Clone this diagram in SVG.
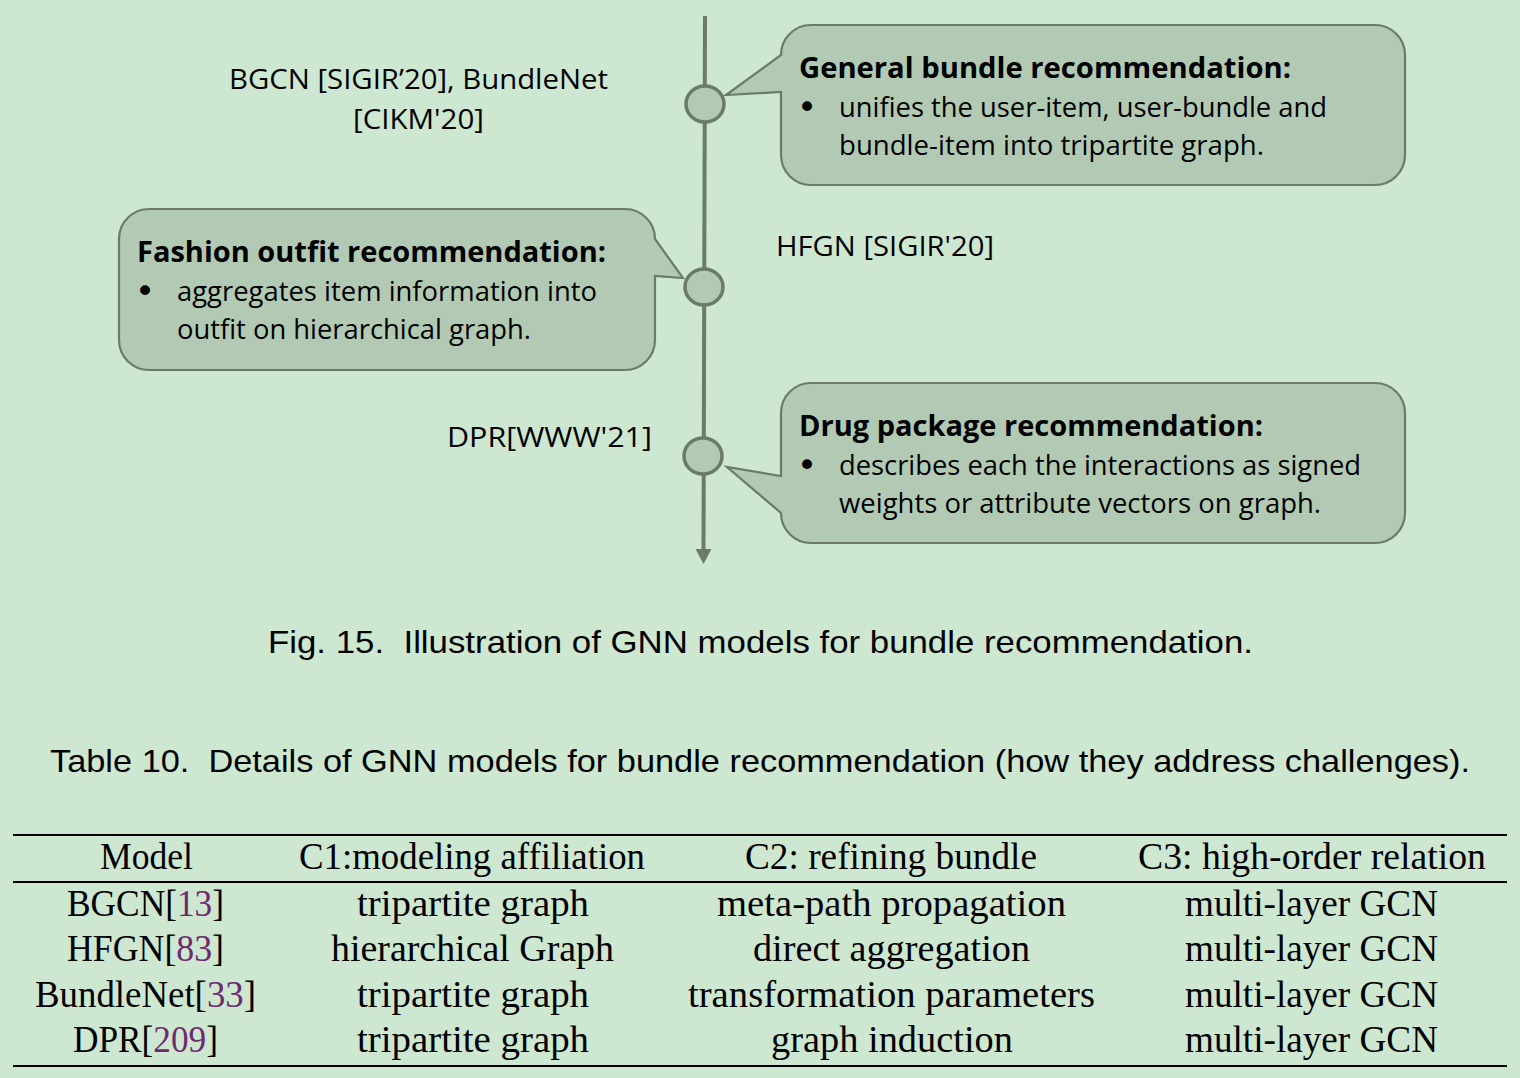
<svg xmlns="http://www.w3.org/2000/svg" width="1520" height="1078" viewBox="0 0 1520 1078">
<style>
.bg{fill:#cde7d0}
.callout{fill:#b2cab3;stroke:#6b7a6b;stroke-width:2.2}
.dot{fill:#b2cab3;stroke:#6b7a6b;stroke-width:3.5}
.axis{stroke:#6b7a6b;stroke-width:4;fill:none}
.head{fill:#6b7a6b}
.t{font-family:"Open Sans","Noto Sans","Liberation Sans",sans-serif;font-size:28px;fill:#000}
.bul{font-family:"DejaVu Sans","Liberation Sans",sans-serif;font-size:34px;fill:#000}
.tb{font-family:"Open Sans","Noto Sans","Liberation Sans",sans-serif;font-size:29px;font-weight:bold;fill:#000}
.cap{font-family:"Liberation Sans","DejaVu Sans",sans-serif;font-size:32px;fill:#000}
.tab{font-family:"Liberation Serif","DejaVu Serif",serif;font-size:37px;fill:#000}
.cite{fill:#6f2a6e}
.rule{stroke:#000;stroke-width:2}
</style>
<rect class="bg" x="0" y="0" width="1520" height="1078"/>

<g id="connectors">
  <line class="axis" x1="705" y1="16" x2="703.5" y2="551"/>
  <polygon class="head" points="695.5,549 711.5,549 703.5,564"/>
</g>

<g id="node-general">
  <path class="callout" d="M 811 25 H 1375 A 30 30 0 0 1 1405 55 V 155 A 30 30 0 0 1 1375 185 H 811 A 30 30 0 0 1 781 155 V 92 L 726 95 L 781 55 A 30 30 0 0 1 811 25 Z"/>
  <text class="tb" x="799" y="78" textLength="492" lengthAdjust="spacingAndGlyphs">General bundle recommendation:</text>
  <text class="bul" x="797" y="119">•</text>
  <text class="t" x="839" y="117" textLength="488" lengthAdjust="spacingAndGlyphs">unifies the user-item, user-bundle and</text>
  <text class="t" x="839" y="155" textLength="425" lengthAdjust="spacingAndGlyphs">bundle-item into tripartite graph.</text>
</g>

<g id="node-fashion">
  <path class="callout" d="M 149 209 H 625 A 30 30 0 0 1 655 239 L 683 278 L 655 276 V 340 A 30 30 0 0 1 625 370 H 149 A 30 30 0 0 1 119 340 V 239 A 30 30 0 0 1 149 209 Z"/>
  <text class="tb" x="137" y="262" textLength="469" lengthAdjust="spacingAndGlyphs">Fashion outfit recommendation:</text>
  <text class="bul" x="135" y="303">•</text>
  <text class="t" x="177" y="301" textLength="420" lengthAdjust="spacingAndGlyphs">aggregates item information into</text>
  <text class="t" x="177" y="339" textLength="354" lengthAdjust="spacingAndGlyphs">outfit on hierarchical graph.</text>
</g>

<g id="node-drug">
  <path class="callout" d="M 811 383 H 1375 A 30 30 0 0 1 1405 413 V 513 A 30 30 0 0 1 1375 543 H 811 A 30 30 0 0 1 781 513 L 727 467 L 781 476 V 413 A 30 30 0 0 1 811 383 Z"/>
  <text class="tb" x="799" y="436" textLength="464" lengthAdjust="spacingAndGlyphs">Drug package recommendation:</text>
  <text class="bul" x="797" y="477">•</text>
  <text class="t" x="839" y="475" textLength="522" lengthAdjust="spacingAndGlyphs">describes each the interactions as signed</text>
  <text class="t" x="839" y="513" textLength="482" lengthAdjust="spacingAndGlyphs">weights or attribute vectors on graph.</text>
</g>

<g id="node-bgcn">
  <ellipse class="dot" cx="705" cy="104" rx="19" ry="18"/>
  <text class="t" x="229" y="89" textLength="379" lengthAdjust="spacingAndGlyphs">BGCN [SIGIR’20], BundleNet</text>
  <text class="t" x="353" y="129" textLength="131" lengthAdjust="spacingAndGlyphs">[CIKM'20]</text>
</g>

<g id="node-hfgn">
  <ellipse class="dot" cx="704" cy="287" rx="19" ry="18"/>
  <text class="t" x="776" y="256" textLength="218" lengthAdjust="spacingAndGlyphs">HFGN [SIGIR'20]</text>
</g>

<g id="node-dpr">
  <ellipse class="dot" cx="703" cy="456" rx="19" ry="18"/>
  <text class="t" x="447" y="447" textLength="205" lengthAdjust="spacingAndGlyphs">DPR[WWW'21]</text>
</g>

<text class="cap" x="268" y="653" xml:space="preserve" textLength="985" lengthAdjust="spacingAndGlyphs">Fig. 15.  Illustration of GNN models for bundle recommendation.</text>
<text class="cap" x="50" y="772" xml:space="preserve" textLength="1420" lengthAdjust="spacingAndGlyphs">Table 10.  Details of GNN models for bundle recommendation (how they address challenges).</text>

<g id="table">
  <line class="rule" x1="13" y1="835" x2="1507" y2="835"/>
  <line class="rule" x1="13" y1="882" x2="1507" y2="882"/>
  <line class="rule" x1="13" y1="1066" x2="1507" y2="1066"/>
  <text class="tab" x="100" y="869" textLength="93" lengthAdjust="spacingAndGlyphs">Model</text>
  <text class="tab" x="299" y="869" textLength="346" lengthAdjust="spacingAndGlyphs">C1:modeling affiliation</text>
  <text class="tab" x="745" y="869" textLength="292" lengthAdjust="spacingAndGlyphs">C2: refining bundle</text>
  <text class="tab" x="1138" y="869" textLength="348" lengthAdjust="spacingAndGlyphs">C3: high-order relation</text>

  <text class="tab" x="67" y="916" textLength="157" lengthAdjust="spacingAndGlyphs">BGCN[<tspan class="cite">13</tspan>]</text>
  <text class="tab" x="357" y="916" textLength="232" lengthAdjust="spacingAndGlyphs">tripartite graph</text>
  <text class="tab" x="717" y="916" textLength="349" lengthAdjust="spacingAndGlyphs">meta-path propagation</text>
  <text class="tab" x="1185" y="916" textLength="253" lengthAdjust="spacingAndGlyphs">multi-layer GCN</text>

  <text class="tab" x="67" y="961" textLength="157" lengthAdjust="spacingAndGlyphs">HFGN[<tspan class="cite">83</tspan>]</text>
  <text class="tab" x="331" y="961" textLength="283" lengthAdjust="spacingAndGlyphs">hierarchical Graph</text>
  <text class="tab" x="753" y="961" textLength="277" lengthAdjust="spacingAndGlyphs">direct aggregation</text>
  <text class="tab" x="1185" y="961" textLength="253" lengthAdjust="spacingAndGlyphs">multi-layer GCN</text>

  <text class="tab" x="35" y="1007" textLength="221" lengthAdjust="spacingAndGlyphs">BundleNet[<tspan class="cite">33</tspan>]</text>
  <text class="tab" x="357" y="1007" textLength="232" lengthAdjust="spacingAndGlyphs">tripartite graph</text>
  <text class="tab" x="688" y="1007" textLength="407" lengthAdjust="spacingAndGlyphs">transformation parameters</text>
  <text class="tab" x="1185" y="1007" textLength="253" lengthAdjust="spacingAndGlyphs">multi-layer GCN</text>

  <text class="tab" x="73" y="1052" textLength="145" lengthAdjust="spacingAndGlyphs">DPR[<tspan class="cite">209</tspan>]</text>
  <text class="tab" x="357" y="1052" textLength="232" lengthAdjust="spacingAndGlyphs">tripartite graph</text>
  <text class="tab" x="771" y="1052" textLength="242" lengthAdjust="spacingAndGlyphs">graph induction</text>
  <text class="tab" x="1185" y="1052" textLength="253" lengthAdjust="spacingAndGlyphs">multi-layer GCN</text>
</g>
</svg>
